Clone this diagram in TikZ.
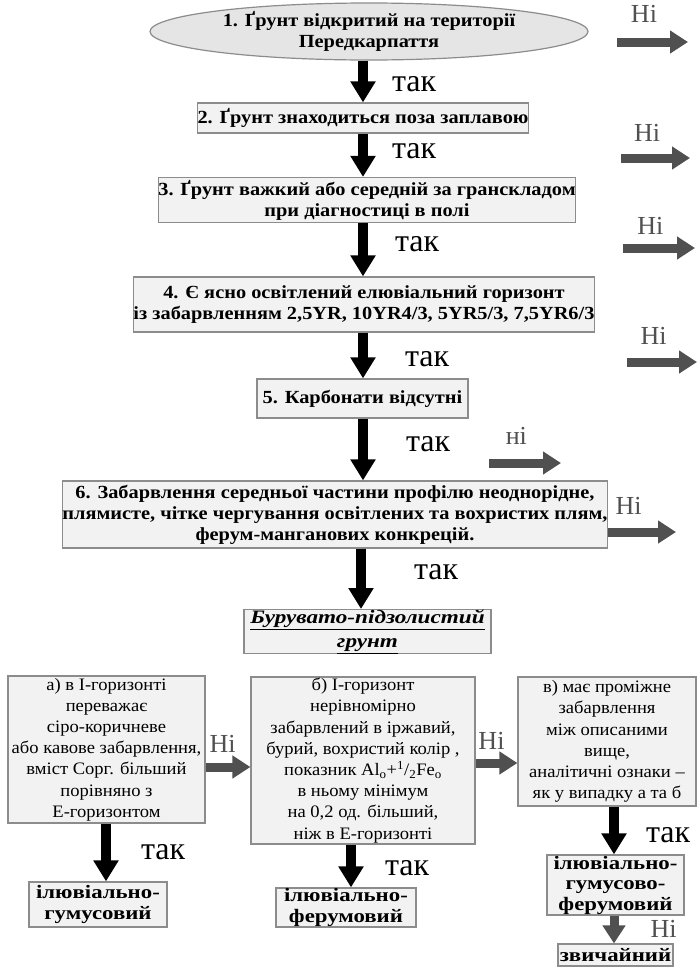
\documentclass[tikz,border=0pt]{standalone}
\usepackage{fontspec}
\setmainfont{Liberation Serif}
\usetikzlibrary{arrows.meta,positioning,shapes.geometric}
\definecolor{boxfill}{HTML}{F2F2F2}
\definecolor{boxline}{HTML}{8C8C8C}
\definecolor{noarrow}{HTML}{505050}
\newcommand{\qfont}{\fontsize{18.5}{21}\selectfont\bfseries\addfontfeature{FakeStretch=1.1}}
\newcommand{\rfont}{\fontsize{19}{21}\selectfont\bfseries\addfontfeature{FakeStretch=1.2}}

\begin{document}
\begin{tikzpicture}[x=1pt, y=-1pt, every node/.style={inner sep=0pt}]
    \tikzset{
        q/.style={draw=boxline, line width=1.2pt, fill=boxfill, align=center, font=\qfont},
        res/.style={q, font=\rfont},
        opt/.style={draw=boxline, line width=1.2pt, fill=boxfill, align=center, font=\fontsize{17.5}{21.2}\selectfont\addfontfeature{FakeStretch=1.06}},
        yes/.style={-{Triangle[width=24pt,length=21pt]}, line width=10pt, black},
        no/.style={-{Triangle[width=22pt,length=18pt]}, line width=9pt, noarrow},
        ytxt/.style={font=\fontsize{32}{32}\selectfont},
        ntxt/.style={font=\fontsize{26}{26}\selectfont}
    }
    \useasboundingbox (0,0) rectangle (697,967);
    \coordinate (col) at (363,0);
    \coordinate (col6) at (361,0);
    \coordinate (cola) at (106,0);
    \coordinate (colb) at (351,0);
    \coordinate (colc) at (614,0);

    % main column
    \node[ellipse, draw=boxline, line width=1.2pt, fill=gray!20, minimum width=438pt, minimum height=57pt] (e1) at (369,31.5) {};
    \node[font=\qfont, align=center] (e1t) at (e1) {1. Ґрунт відкритий на території\\Передкарпаття};
    \node[q, minimum width=330pt, minimum height=30pt] (b2) at (363,118) {2. Ґрунт знаходиться поза заплавою};
    \node[q, minimum width=410pt, minimum height=45pt] (b3) at (367,200) {3. Ґрунт важкий або середній за гранскладом\\при діагностиці в полі};
    \node[q, minimum width=450pt, minimum height=55pt] (b4) at (364,304.5) {4. Є ясно освітлений елювіальний горизонт\\із забарвленням 2,5YR, 10YR4/3, 5YR5/3, 7,5YR6/3};
    \node[q, minimum width=211pt, minimum height=39pt] (b5) at (362.5,398.5) {5. Карбонати відсутні};
    \node[q, minimum width=534pt, minimum height=67pt] (b6) at (335,514.5) {6. Забарвлення середньої частини профілю неоднорідне,\\плямисте, чітке чергування освітлених та вохристих плям,\\ферум-манганових конкрецій.};
    \node[q, font=\fontsize{19}{24}\selectfont\bfseries\itshape\addfontfeature{FakeStretch=1.22}, minimum width=247pt, minimum height=43pt] (b7) at (367.5,631.5) {\underline{Бурувато-підзолистий}\\\underline{грунт}};

    \draw[yes] (e1.south -| col) -- (b2.north -| col) node[pos=0.56, right=24pt, ytxt] {так};
    \draw[yes] (b2.south -| col) -- (b3.north -| col) node[pos=0.4, right=24pt, ytxt] {так};
    \draw[yes] (b3.south -| col) -- (b4.north -| col) node[pos=0.4, right=27pt, ytxt] {так};
    \draw[yes] (b4.south -| col) -- (b5.north -| col) node[pos=0.59, right=37pt, ytxt] {так};
    \draw[yes] (b5.south -| col) -- (b6.north -| col) node[pos=0.41, right=38pt, ytxt] {так};
    \draw[yes] (b6.south -| col6) -- (b7.north -| col6) node[pos=0.39, right=48pt, ytxt] {так};

    % no branches
    \foreach \i/\y/\xa/\xb/\up/\lab in {1/42/617/688/15/Ні, 2/158/621/690/12/Ні, 3/248/623/695/9/Ні, 4/362/627/697/13/Ні, 5/463/489/561/14/ні} {
        \coordinate (na\i) at (\xa,\y);
        \coordinate (nb\i) at (\xb,\y);
        \draw[no] (na\i) -- (nb\i) node[pos=0.38, above=\up pt, ntxt] {\lab};
    }
    \coordinate (nb6) at (676,532);
    \draw[no] (b6.east |- nb6) -- (nb6) node[pos=0.3, above=13pt, ntxt] {Ні};

    % subtypes
    \node[opt, minimum width=197pt, minimum height=147pt] (sa) at (106.5,749.5) {а) в І-горизонті\\переважає\\сіро-коричневе\\або кавове забарвлення,\\вміст Сорг. більший\\порівняно з\\Е-горизонтом};
    \node[opt, minimum width=224pt, minimum height=167pt] (sb) at (363,760.5) {б) І-горизонт\\нерівномірно\\забарвлений в іржавий,\\бурий, вохристий колір ,\\показник Al\textsubscript{o}+\textsuperscript{1}/\textsubscript{2}Fe\textsubscript{o}\\в ньому мінімум\\на 0,2 од. більший,\\ніж в Е-горизонті};
    \node[opt, minimum width=178pt, minimum height=129pt] (sc) at (607,741.5) {в) має проміжне\\забарвлення\\між описаними\\вище,\\аналітичні ознаки –\\як у випадку а та б};

    \coordinate (hy1) at (0,767);
    \coordinate (hy2) at (0,763);
    \draw[no] (sa.east |- hy1) -- (sb.west |- hy1) node[pos=0.38, above=10pt, ntxt] {Ні};
    \draw[no] (sb.east |- hy2) -- (sc.west |- hy2) node[pos=0.38, above=9pt, ntxt] {Ні};

    \node[res, minimum width=138pt, minimum height=45pt] (ra) at (98,904.5) {ілювіально-\\гумусовий};
    \node[res, minimum width=140pt, minimum height=39pt] (rb) at (346,907.5) {ілювіально-\\ферумовий};
    \node[res, minimum width=137pt, minimum height=60pt, font=\fontsize{19}{20.5}\selectfont\bfseries\addfontfeature{FakeStretch=1.2}] (rc) at (615.5,885) {ілювіально-\\гумусово-\\ферумовий};
    \node[res, minimum width=115pt, minimum height=22pt] (rz) at (615.5,955) {звичайний};

    \draw[yes] (sa.south -| cola) -- (ra.north -| cola) node[pos=0.49, right=30pt, ytxt] {так};
    \draw[yes] (sb.south -| colb) -- (rb.north -| colb) node[pos=0.55, right=29pt, ytxt] {так};
    \draw[yes] (sc.south -| colc) -- (rc.north -| colc) node[pos=0.59, right=27pt, ytxt] {так};
    \draw[no] (rc.south -| colc) -- (rz.north -| colc) node[pos=0.47, right=32pt, ntxt] {Ні};
\end{tikzpicture}
\end{document}
